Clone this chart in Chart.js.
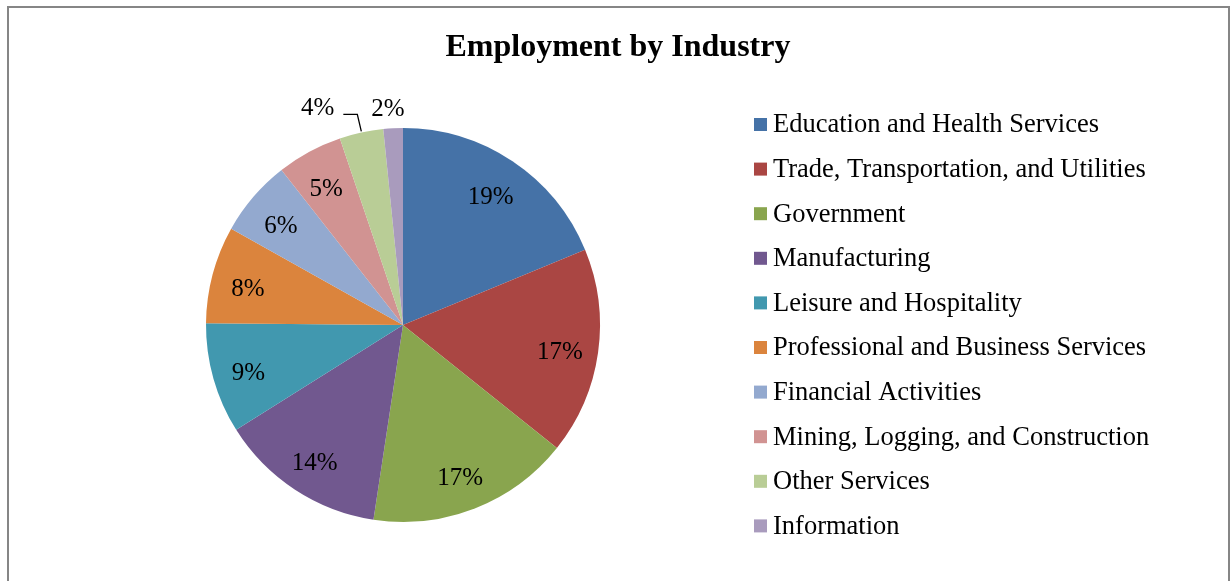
<!DOCTYPE html>
<html>
<head>
<meta charset="utf-8">
<title>Employment by Industry</title>
<script src="https://cdn.jsdelivr.net/npm/chart.js@4.4.1/dist/chart.umd.min.js"></script>
<style>
  html, body { margin: 0; padding: 0; background: #fff; }
  #wrap { width: 1231px; height: 581px; position: relative; }
</style>
</head>
<body>
<div id="wrap"><canvas id="industryPie" width="1231" height="581"></canvas></div>
<script>
// Employment share by industry (percent)
const industries = [
  'Education and Health Services',
  'Trade, Transportation, and Utilities',
  'Government',
  'Manufacturing',
  'Leisure and Hospitality',
  'Professional and Business Services',
  'Financial Activities',
  'Mining, Logging, and Construction',
  'Other Services',
  'Information'
];
const shares = [18.8, 17.0, 16.7, 13.7, 9.1, 8.0, 6.3, 5.4, 3.6, 1.6];
const sliceColors = [
  '#4572A7', '#AA4643', '#89A54E', '#71588F', '#4198AF',
  '#DB843D', '#93A9CF', '#D19392', '#B9CD96', '#A99BBD'
];

const SERIF = '"Liberation Serif", "Times New Roman", serif';

// frame, title, legend and percent labels
const decorPlugin = {
  id: 'decor',
  afterDraw(chart) {
    const ctx = chart.ctx;
    ctx.save();

    // outer frame
    ctx.strokeStyle = '#868686';
    ctx.lineWidth = 2;
    ctx.beginPath();
    ctx.moveTo(8, 600);
    ctx.lineTo(8, 7);
    ctx.lineTo(1229, 7);
    ctx.lineTo(1229, 600);
    ctx.stroke();

    // title
    ctx.fillStyle = '#000';
    ctx.font = 'bold 32px ' + SERIF;
    ctx.textAlign = 'center';
    ctx.textBaseline = 'middle';
    ctx.fillText('Employment by Industry', 618, 48);

    // legend
    ctx.font = '26.5px ' + SERIF;
    ctx.textAlign = 'left';
    industries.forEach((name, i) => {
      const y = 124.5 + i * 44.6;
      ctx.fillStyle = sliceColors[i];
      ctx.fillRect(754, y - 6.5, 13, 13);
      ctx.fillStyle = '#000';
      ctx.fillText(name, 773, y + 1);
    });

    // percent labels
    const meta = chart.getDatasetMeta(0);
    const total = shares.reduce((a, b) => a + b, 0);
    ctx.font = '25px ' + SERIF;
    ctx.textAlign = 'center';
    let prevOutside = null;
    let prevY = null;
    for (let i = meta.data.length - 1; i >= 0; i--) {
      const arc = meta.data[i];
      const p = arc.getProps(['x', 'y', 'startAngle', 'endAngle', 'outerRadius'], true);
      const mid = (p.startAngle + p.endAngle) / 2;
      const txt = Math.round(shares[i] / total * 100) + '%';
      ctx.fillStyle = '#000';
      if (shares[i] >= 5) {
        const r = p.outerRadius * 0.81;
        ctx.fillText(txt, p.x + Math.cos(mid) * r - 1, p.y + Math.sin(mid) * r + 5);
      } else {
        const r = p.outerRadius + 22;
        let lx = p.x + Math.cos(mid) * r - 4;
        let ly = p.y + Math.sin(mid) * r + 3;
        const w = ctx.measureText(txt).width;
        if (prevOutside !== null && lx + w / 2 > prevOutside - 8) {
          // pushed left: same row as its neighbour, leader line back to the slice
          lx = lx - 35;
          ly = prevY - 1;
          const ex = p.x + Math.cos(mid) * p.outerRadius;
          const ey = p.y + Math.sin(mid) * p.outerRadius;
          ctx.strokeStyle = '#000';
          ctx.lineWidth = 1.3;
          ctx.beginPath();
          ctx.moveTo(lx + w / 2 + 9, ly + 6);
          ctx.lineTo(ex - 4, ly + 6);
          ctx.lineTo(ex, ey - 1);
          ctx.stroke();
        }
        ctx.fillText(txt, lx, ly);
        prevOutside = lx - w / 2;
        prevY = ly;
      }
    }
    ctx.restore();
  }
};

new Chart(document.getElementById('industryPie'), {
  type: 'pie',
  data: {
    labels: industries,
    datasets: [{
      data: shares,
      backgroundColor: sliceColors,
      borderWidth: 0
    }]
  },
  options: {
    responsive: false,
    animation: false,
    events: [],
    layout: { padding: { left: 206, right: 631, top: 128, bottom: 59 } },
    plugins: {
      legend: { display: false },
      title: { display: false },
      tooltip: { enabled: false }
    }
  },
  plugins: [decorPlugin]
});
</script>
</body>
</html>
